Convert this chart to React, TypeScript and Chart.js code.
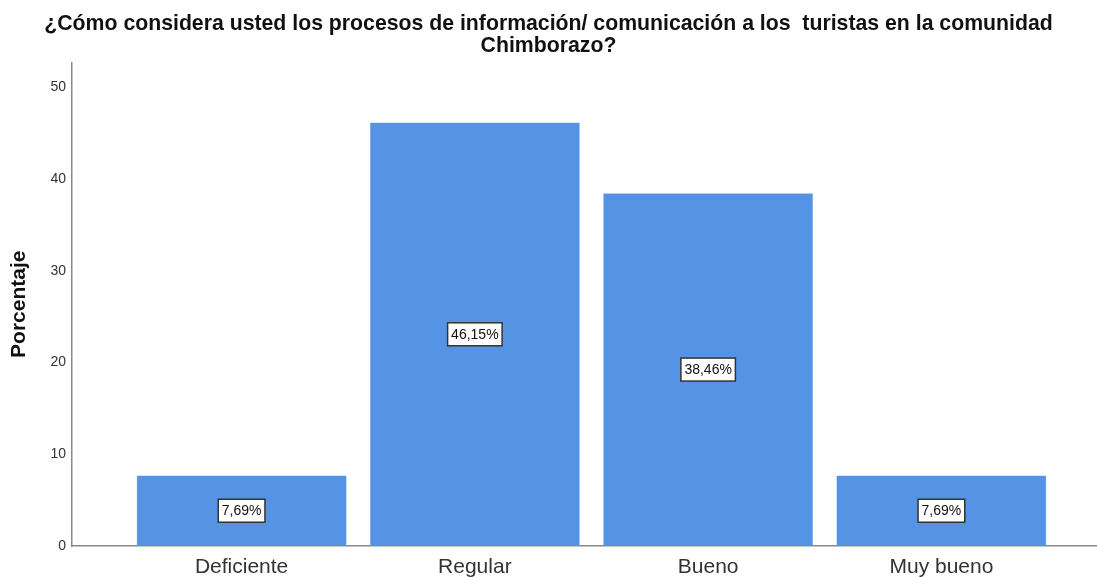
import React, { useEffect, useRef } from "react";
import { Chart, registerables } from "chart.js";

Chart.register(...registerables);

const categories: string[] = ["Deficiente", "Regular", "Bueno", "Muy bueno"];
const percentages: number[] = [7.69, 46.15, 38.46, 7.69];
const yTicks: number[] = [0, 10, 20, 30, 40, 50];
const titleLines: string[] = [
  "¿Cómo considera usted los procesos de información/ comunicación a los  turistas en la comunidad",
  "Chimborazo?",
];
const yTitle = "Porcentaje";

const FONT = "'Liberation Sans', Arial, sans-serif";

const labelPlugin = {
  id: "boxLabels",
  afterDatasetsDraw(chart: any) {
    const ctx = chart.ctx;
    const meta = chart.getDatasetMeta(0);
    ctx.save();
    ctx.font = `14px ${FONT}`;
    ctx.textAlign = "center";
    ctx.textBaseline = "middle";
    meta.data.forEach((el: any, i: number) => {
      const v = percentages[i];
      const txt = v.toFixed(2).replace(".", ",") + "%";
      const w = ctx.measureText(txt).width + 7;
      const h = 23;
      const cx = el.x;
      const cy = (el.y + el.base) / 2;
      ctx.fillStyle = "#ffffff";
      ctx.fillRect(cx - w / 2, cy - h / 2, w, h);
      ctx.strokeStyle = "#333333";
      ctx.lineWidth = 1.5;
      ctx.strokeRect(cx - w / 2, cy - h / 2, w, h);
      ctx.fillStyle = "#111111";
      ctx.fillText(txt, cx, cy + 0.5);
    });
    ctx.restore();
  },
};

export default function App() {
  const ref = useRef<HTMLCanvasElement | null>(null);

  useEffect(() => {
    if (!ref.current) return;
    const chart = new Chart(ref.current, {
      type: "bar",
      data: {
        datasets: [
          {
            data: percentages.map((v, i) => ({ x: i, y: v })),
            backgroundColor: "#5594e4",
            borderColor: "#6aa3ea",
            borderWidth: 0.5,
            barPercentage: 0.9,
            categoryPercentage: 1,
          },
        ],
      },
      options: {
        responsive: false,
        maintainAspectRatio: false,
        animation: false,
        devicePixelRatio: 1,
        layout: { padding: 0 },
        plugins: {
          legend: { display: false },
          tooltip: { enabled: false },
          title: {
            display: true,
            text: titleLines,
            color: "#111111",
            font: { family: FONT, size: 21.25, weight: "bold", lineHeight: 1.0 },
            padding: { top: 14, bottom: 6 },
          },
        },
        scales: {
          x: {
            type: "linear",
            offset: false,
            min: -0.727,
            max: 3.667,
            grid: { display: false, drawTicks: false, offset: false },
            border: { display: true, color: "#8a8a8a", width: 1.5 },
            afterBuildTicks: (scale: any) => {
              scale.ticks = categories.map((_, i) => ({ value: i }));
            },
            afterFit: (scale: any) => {
              scale.height = 31;
            },
            ticks: {
              color: "#333333",
              font: { family: FONT, size: 21 },
              padding: 9,
              autoSkip: false,
              maxRotation: 0,
              callback: (v: any) => categories[v as number] ?? "",
            },
          },
          y: {
            type: "linear",
            min: 0,
            max: 52.7,
            grid: { display: false, drawTicks: false },
            border: { display: true, color: "#8a8a8a", width: 1.5 },
            afterBuildTicks: (scale: any) => {
              scale.ticks = yTicks.map((v) => ({ value: v }));
            },
            afterFit: (scale: any) => {
              scale.width = 72;
            },
            ticks: {
              color: "#333333",
              font: { family: FONT, size: 14 },
              padding: 6,
            },
            title: {
              display: true,
              text: yTitle,
              color: "#111111",
              font: { family: FONT, size: 21, weight: "bold" },
              padding: { top: 7, bottom: 0 },
            },
          },
        },
      },
      plugins: [labelPlugin],
    } as any);
    return () => chart.destroy();
  }, []);

  return (
    <div style={{ position: "absolute", left: 0, top: 0, width: 1097, height: 577, background: "#ffffff" }}>
      <canvas ref={ref} width={1097} height={577} />
    </div>
  );
}
